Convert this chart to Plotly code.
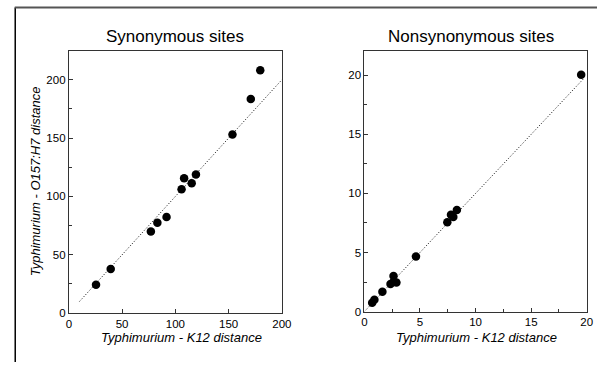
import plotly.graph_objects as go

# Synonymous sites
syn_x = [25.5, 39.3, 77, 83.1, 91.7, 105.8, 108.2, 115.3, 119.3, 153.6, 170.8, 179.7]
syn_y = [24.4, 37.9, 70, 77.5, 82.3, 106.2, 115.5, 111.3, 118.8, 153.1, 183.4, 208.2]
syn_line = [10, 200]

# Nonsynonymous sites
non_x = [0.7, 0.9, 1.62, 2.35, 2.62, 2.88, 2.6, 4.64, 7.46, 7.79, 8.0, 8.32, 19.5]
non_y = [0.75, 1.0, 1.67, 2.33, 3.0, 2.45, 2.5, 4.67, 7.56, 8.2, 8.0, 8.6, 20.05]
non_line = [0, 19.7]

titles = ["Synonymous sites", "Nonsynonymous sites"]
x_title = "Typhimurium - K12 distance"
y_title = "Typhimurium - O157:H7 distance"

W, H = 607, 368
FONT = "Liberation Sans, Arial, Helvetica, sans-serif"

fig = go.Figure()
fig.add_trace(go.Scatter(x=syn_line, y=syn_line, mode="lines",
                         line=dict(color="black", width=1, dash="1px,2px"),
                         xaxis="x", yaxis="y", showlegend=False))
fig.add_trace(go.Scatter(x=syn_x, y=syn_y, mode="markers",
                         marker=dict(color="black", size=8.5),
                         xaxis="x", yaxis="y", showlegend=False))
fig.add_trace(go.Scatter(x=non_line, y=non_line, mode="lines",
                         line=dict(color="black", width=1, dash="1px,2px"),
                         xaxis="x2", yaxis="y2", showlegend=False))
fig.add_trace(go.Scatter(x=non_x, y=non_y, mode="markers",
                         marker=dict(color="black", size=8.5),
                         xaxis="x2", yaxis="y2", showlegend=False))

def px_x(p):
    return p / W

def px_y(p):
    return 1 - p / H

axis_common = dict(showline=True, mirror=True, linecolor="#333", linewidth=1,
                   ticks="inside", ticklen=4, tickcolor="#333", showgrid=False,
                   zeroline=False, tickfont=dict(family=FONT, size=11.5, color="black"))

fig.update_layout(
    width=W, height=H,
    margin=dict(l=0, r=0, t=0, b=0),
    paper_bgcolor="white", plot_bgcolor="white",
    font=dict(family=FONT, color="black"),
    xaxis=dict(domain=[px_x(67.3), px_x(285)], range=[0, 200], tickvals=[0, 50, 100, 150, 200],
               anchor="y", **axis_common),
    yaxis=dict(domain=[px_y(318.3), px_y(52)], range=[0, 224.5], tickvals=[0, 50, 100, 150, 200],
               anchor="x", minor=dict(ticks="inside", ticklen=3, tickcolor="#333", dtick=25),
               **axis_common),
    xaxis2=dict(domain=[px_x(369.3), px_x(596.5)], range=[0, 20], tickvals=[0, 5, 10, 15, 20],
                anchor="y2", minor=dict(ticks="inside", ticklen=3, tickcolor="#333", dtick=2.5),
                **axis_common),
    yaxis2=dict(domain=[px_y(316.7), px_y(52)], range=[0, 22.05], tickvals=[0, 5, 10, 15, 20],
                anchor="x2", minor=dict(ticks="inside", ticklen=3, tickcolor="#333", dtick=2.5),
                **axis_common),
)

def label(text, x, y, size, angle=0):
    return dict(text=text, x=px_x(x), y=px_y(y), xref="paper", yref="paper",
                xanchor="center", yanchor="middle", showarrow=False, textangle=angle,
                font=dict(family=FONT, size=size, color="black"))

ann = [
    label(titles[0], 176, 37, 17),
    label(titles[1], 478, 37, 17),
    label("<i>" + x_title + "</i>", 182, 343, 13),
    label("<i>" + x_title + "</i>", 484, 343, 13),
    label("<i>" + y_title + "</i>", 33, 184, 13, -90),
]
fig.update_layout(annotations=ann)

# outer frame (partial border visible in the reference)
fig.add_shape(type="line", xref="paper", yref="paper",
              x0=px_x(12.5), x1=px_x(12.5), y0=0, y1=px_y(7.5),
              line=dict(color="black", width=1.5))
fig.add_shape(type="line", xref="paper", yref="paper",
              x0=px_x(12), x1=1, y0=px_y(7.5), y1=px_y(7.5),
              line=dict(color="#555", width=2))

fig.write_html("out.html", post_script="document.body.style.margin='0';",
               config={"displayModeBar": False})
